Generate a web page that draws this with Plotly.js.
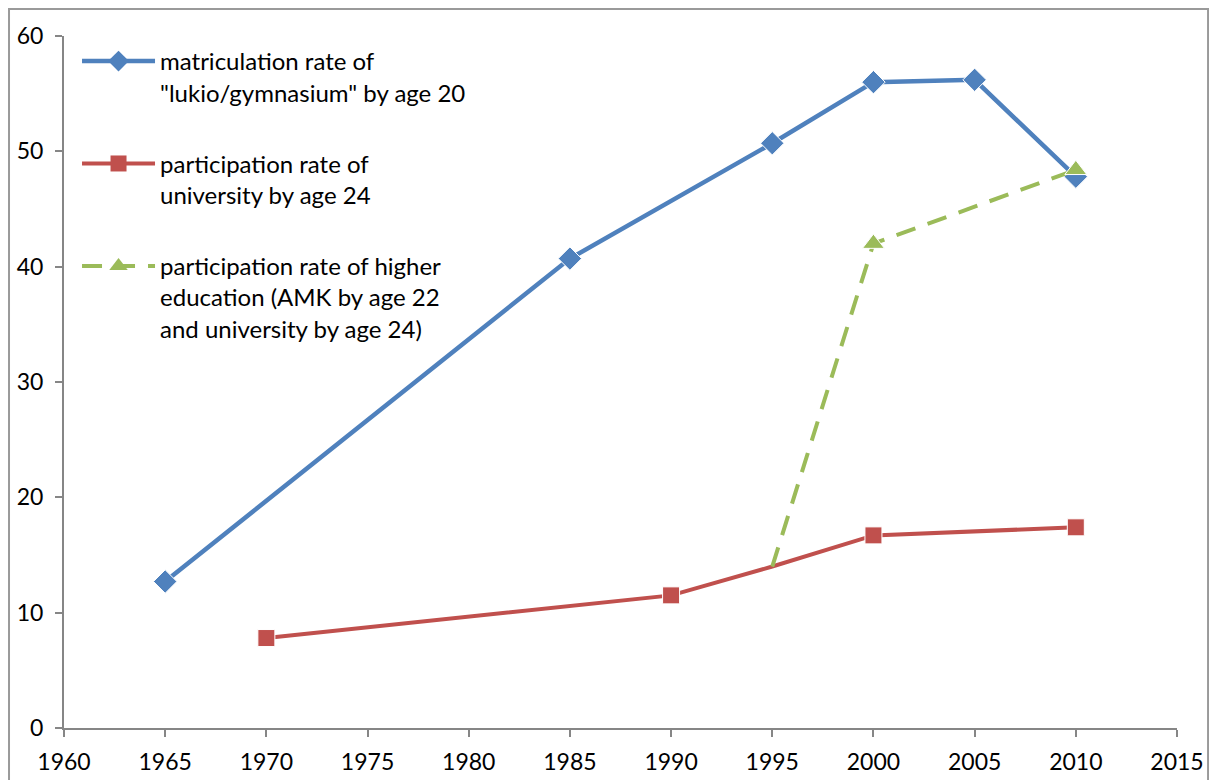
<!DOCTYPE html>
<html><head><meta charset="utf-8">
<script src="https://cdn.plot.ly/plotly-3.0.1.min.js"></script>
<style>html,body{margin:0;padding:0;background:#fff}#chart{width:1209px;height:780px}</style>
</head><body><div id="chart"></div>
<script>
const matricYears = [1965, 1985, 1995, 2000, 2005, 2010];
const matricValues = [12.7, 40.7, 50.7, 56.0, 56.2, 47.8];
const univYears = [1970, 1990, 1995, 2000, 2010];
const univValues = [7.8, 11.5, 14.0, 16.7, 17.4];
const univMarkerShown = [true, true, false, true, true];
const higherYears = [1995, 2000, 2010];
const higherValues = [14.0, 42.0, 48.4];
const higherMarkerShown = [false, true, true];
const names = [
  'matriculation rate of<br>"lukio/gymnasium" by age 20',
  'participation rate of<br>university by age 24',
  'participation rate of higher<br>education (AMK by age 22<br>and university by age 24)'
];
const xTicks = [1960,1965,1970,1975,1980,1985,1990,1995,2000,2005,2010,2015];
const yTicks = [0,10,20,30,40,50,60];

const font = "Lato, 'Open Sans', sans-serif";
const styles = [
  {line:{color:'#4F81BD', width:4.5}, symbol:'diamond', size:18, color:'#4F81BD'},
  {line:{color:'#C0504D', width:4}, symbol:'square', size:17, color:'#C0504D'},
  {line:{color:'#9BBB59', width:4, dash:'20px,13px'}, symbol:'triangle-up', size:19, color:'#9BBB59'}
];
const series = [
  {x: matricYears, y: matricValues, shown: matricYears.map(() => true)},
  {x: univYears, y: univValues, shown: univMarkerShown},
  {x: higherYears, y: higherValues, shown: higherMarkerShown}
];
const traces = [];
series.forEach((s, i) => {
  const st = styles[i];
  traces.push({x: s.x, y: s.y, mode:'lines+markers', showlegend:false, legendgroup:'g'+i,
    line: st.line,
    marker:{symbol: st.symbol, color: st.color, opacity:1, size: s.shown.map(v => v ? st.size : 0)}});
});
// legend entries
series.forEach((s, i) => {
  const st = styles[i];
  traces.push({x:[null], y:[null], mode:'lines+markers', name: names[i], legendgroup:'g'+i,
    line: st.line, marker:{symbol: st.symbol, color: st.color, size: st.size}});
});
const layout = {
  width:1209, height:780,
  margin:{l:64, r:32, t:36, b:52},
  paper_bgcolor:'#fff', plot_bgcolor:'#fff',
  font:{family:font, size:24, color:'#000'},
  showlegend:true,
  legend:{x:0.0117, y:0.9957, xanchor:'left', yanchor:'top', bgcolor:'rgba(0,0,0,0)',
    font:{family:font, size:24, color:'#000'}, valign:'top', tracegroupgap:37,
    traceorder:'grouped', itemwidth:73},
  xaxis:{range:[1960,2015], tickvals:xTicks, ticktext:xTicks.map(String), showgrid:false, zeroline:false,
    showline:true, linecolor:'#868686', linewidth:2, ticks:'outside', ticklen:7, tickcolor:'#868686', tickwidth:2,
    tickfont:{family:font, size:23}, ticklabelstandoff:5, fixedrange:true},
  yaxis:{range:[0,60], tickvals:yTicks, showgrid:false, zeroline:false,
    showline:true, linecolor:'#868686', linewidth:2, ticks:'outside', ticklen:7, tickcolor:'#868686', tickwidth:2,
    tickfont:{family:font, size:23}, ticklabelstandoff:7, fixedrange:true},
  shapes:[{type:'rect', xref:'paper', yref:'paper', x0:-0.0494, x1:1.0279, y0:-0.2, y1:1.039,
    line:{color:'#9a9a9a', width:2}, fillcolor:'rgba(0,0,0,0)', layer:'below'}]
};
Plotly.newPlot('chart', traces, layout, {displayModeBar:false, staticPlot:true});
</script></body></html>
